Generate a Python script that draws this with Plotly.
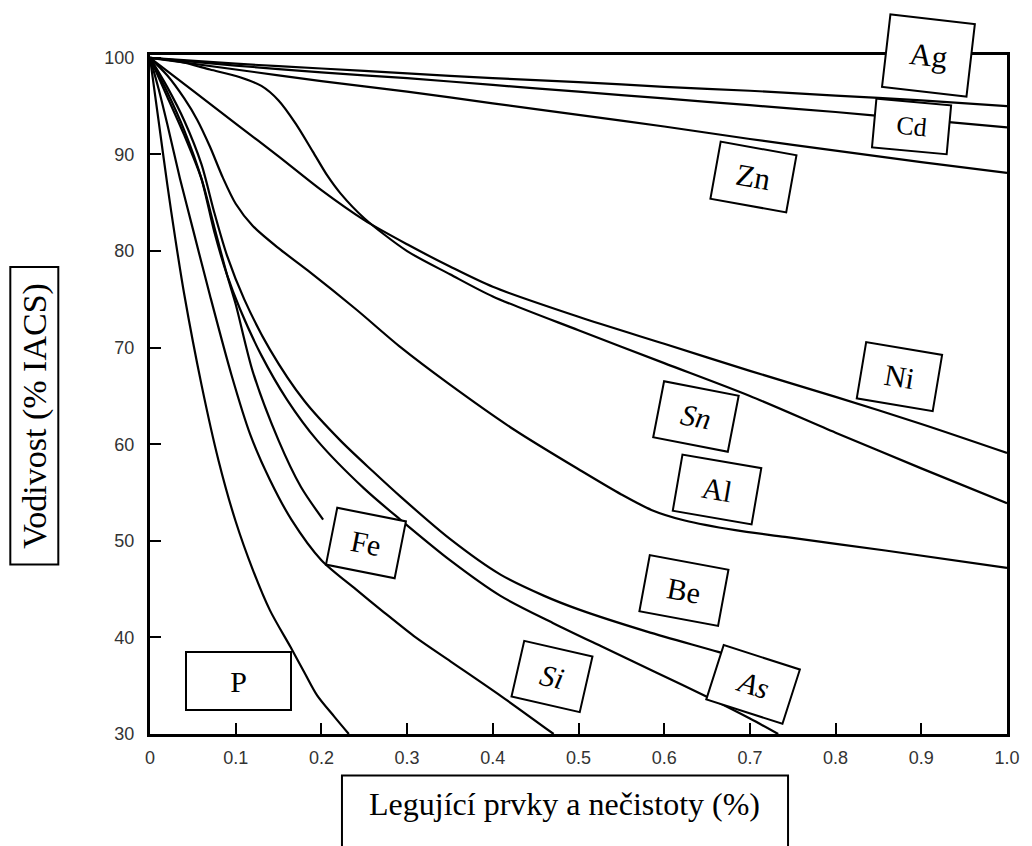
import plotly.graph_objects as go

# ---- data ----
ag_x = [0, 0.1, 0.2, 0.3, 0.4, 0.5, 0.6, 0.7, 0.8, 0.9, 1.0]
ag_y = [100, 99.4, 98.9, 98.4, 97.9, 97.5, 97.0, 96.6, 96.1, 95.6, 95.0]

cd_x = [0, 0.1, 0.2, 0.3, 0.4, 0.5, 0.6, 0.7, 0.8, 0.9, 1.0]
cd_y = [100, 99.2, 98.5, 97.9, 97.2, 96.5, 95.8, 95.1, 94.4, 93.6, 92.8]

zn_x = [0, 0.1, 0.2, 0.3, 0.4, 0.5, 0.6, 0.7, 0.8, 0.9, 1.0]
zn_y = [100, 98.8, 97.6, 96.5, 95.3, 94.1, 92.9, 91.6, 90.4, 89.2, 88.1]

ni_x = [0, 0.05, 0.1, 0.15, 0.2, 0.25, 0.3, 0.35, 0.4, 0.5, 0.6, 0.7, 0.8, 0.9, 1.0]
ni_y = [100, 96.6, 93.2, 89.8, 86.3, 83.2, 80.7, 78.4, 76.3, 73.2, 70.4, 67.6, 64.9, 62.1, 59.1]

sn_x = [0, 0.035, 0.07, 0.105, 0.13, 0.15, 0.17, 0.19, 0.207, 0.222, 0.25, 0.3,
        0.35, 0.4, 0.5, 0.6, 0.7, 0.8, 0.9, 1.0]
sn_y = [100, 99.6, 98.8, 98.0, 97.1, 95.6, 93.2, 90.3, 87.8, 86.0, 83.4, 80.0,
        77.6, 75.3, 71.8, 68.4, 65.0, 61.2, 57.5, 53.9]

al_x = [0, 0.02, 0.04, 0.055, 0.07, 0.085, 0.1, 0.12, 0.15, 0.184, 0.24,
        0.293, 0.348, 0.425, 0.504, 0.55, 0.585, 0.624, 0.683, 0.741, 0.858, 1.0]
al_y = [100, 98.2, 95.8, 93.6, 90.8, 87.6, 84.9, 82.6, 80.3, 78.0, 74.0,
        70.0, 66.3, 61.5, 57.2, 54.8, 53.2, 52.1, 51.1, 50.4, 49.0, 47.2]

be_x = [0, 0.02, 0.04, 0.06, 0.075, 0.09, 0.11, 0.14, 0.18, 0.222, 0.26, 0.292,
        0.35, 0.409, 0.46, 0.5, 0.58, 0.663, 0.72]
be_y = [100, 97, 93.5, 89, 84, 79.5, 75, 69.8, 64.5, 60.4, 57.2, 54.6,
        50.2, 46.5, 44.3, 42.9, 40.6, 38.5, 37.0]

as_x = [0, 0.02, 0.04, 0.06, 0.075, 0.09, 0.105, 0.13, 0.16, 0.195, 0.25,
        0.292, 0.35, 0.409, 0.47, 0.526, 0.59, 0.651, 0.7, 0.733]
as_y = [100, 96.5, 92.5, 87.5, 82.0, 77.5, 74.0, 69.2, 64.6, 60.4, 55.4,
        52.2, 48.0, 44.3, 41.5, 39.1, 36.4, 33.8, 31.6, 30]

fe_x = [0, 0.02, 0.04, 0.06, 0.075, 0.09, 0.1, 0.12, 0.15, 0.176, 0.202]
fe_y = [100, 96, 92, 87.5, 82.5, 77.5, 74.5, 67.5, 60.4, 55.6, 52.2]

si_x = [0, 0.01, 0.02, 0.035, 0.05, 0.07, 0.095, 0.117, 0.14, 0.165, 0.2, 0.24,
        0.273, 0.31, 0.351, 0.41, 0.471]
si_y = [100, 96.8, 93.2, 87.5, 82.3, 75.4, 67.2, 61.0, 56.3, 52.2, 48.0, 45.0,
        42.6, 40.0, 37.5, 33.9, 30]

p_x = [0, 0.01, 0.02, 0.03, 0.04, 0.06, 0.08, 0.1, 0.12, 0.14, 0.164, 0.18, 0.195, 0.215, 0.232]
p_y = [100, 93.5, 87, 81, 75.5, 66.2, 58.3, 52.0, 47.0, 42.8, 39.0, 36.4, 34.0, 31.8, 30]

x_ticks = [0, 0.1, 0.2, 0.3, 0.4, 0.5, 0.6, 0.7, 0.8, 0.9, 1.0]
x_tick_text = ["0", "0.1", "0.2", "0.3", "0.4", "0.5", "0.6", "0.7", "0.8", "0.9", "1.0"]
y_ticks = [30, 40, 50, 60, 70, 80, 90, 100]

# label boxes: name, x, y, width, height, angle, font size, italic
labels = [
    ("Ag", 0.908, 100.3, 87, 75, 6.6, 31, False),
    ("Cd", 0.889, 92.85, 77, 51, 5.2, 26, False),
    ("Zn", 0.704, 87.7, 79, 60, 10.2, 31, False),
    ("Ni", 0.874, 67.05, 79, 59, 9.5, 30, False),
    ("Sn", 0.637, 62.9, 78, 59, 11.0, 30, True),
    ("Al", 0.662, 55.3, 82, 59, 9.8, 30, False),
    ("Be", 0.623, 44.9, 82, 59, 10.5, 30, False),
    ("As", 0.704, 35.1, 82, 59, 17.8, 30, True),
    ("Si", 0.469, 35.96, 72, 59, 12.9, 30, True),
    ("Fe", 0.252, 49.8, 72, 60, 11.2, 30, False),
    ("P", 0.103, 35.5, 107, 60, 0.0, 30, False),
]

series = [
    (ag_x, ag_y), (cd_x, cd_y), (zn_x, zn_y), (ni_x, ni_y), (sn_x, sn_y),
    (al_x, al_y), (be_x, be_y), (as_x, as_y), (fe_x, fe_y), (si_x, si_y), (p_x, p_y),
]

fig = go.Figure()
for sx, sy in series:
    fig.add_trace(go.Scatter(
        x=sx, y=sy, mode="lines",
        line=dict(color="black", width=2.2, shape="spline", smoothing=0.8),
        showlegend=False, hoverinfo="skip",
    ))

annotations = []
for name, ax, ay, w, h, ang, fs, ital in labels:
    annotations.append(dict(
        x=ax, y=ay, xref="x", yref="y", text=name, showarrow=False,
        font=dict(family="Liberation Serif", size=fs, color="black",
                  style="italic" if ital else "normal"),
        bordercolor="black", borderwidth=2, borderpad=0, bgcolor="white",
        width=w - 4, height=h - 4, textangle=ang,
        xanchor="center", yanchor="middle",
    ))

# axis titles (as boxed texts)
annotations.append(dict(
    x=0.484, y=-0.1024, xref="paper", yref="paper",
    text="Legující prvky a nečistoty (%)", showarrow=False,
    font=dict(family="Liberation Serif", size=32, color="black"),
    xanchor="center", yanchor="middle",
))
annotations.append(dict(
    x=-0.135, y=0.469, xref="paper", yref="paper",
    text="Vodivost (% IACS)", showarrow=False, textangle=-90,
    font=dict(family="Liberation Serif", size=34, color="black"),
    xanchor="center", yanchor="middle",
))

shapes = [
    dict(type="rect", xref="paper", yref="paper", x0=0.224, x1=0.7445, y0=-0.201, y1=-0.0612,
         line=dict(color="black", width=2), fillcolor="rgba(0,0,0,0)"),
    dict(type="rect", xref="paper", yref="paper", x0=-0.163, x1=-0.107, y0=0.2498, y1=0.6876,
         line=dict(color="black", width=2), fillcolor="rgba(0,0,0,0)"),
]

fig.update_layout(
    width=1032, height=846,
    margin=dict(l=150, r=25, t=55, b=112, pad=0),
    paper_bgcolor="white", plot_bgcolor="white",
    annotations=annotations, shapes=shapes,
    font=dict(family="Liberation Sans", size=18, color="#333333"),
)
fig.update_xaxes(
    range=[0, 1.0], tickvals=x_ticks, ticktext=x_tick_text,
    showgrid=False, zeroline=False, showline=True, linecolor="black", linewidth=3,
    mirror=True, ticks="inside", ticklen=11, tickwidth=2, tickcolor="black",
    ticklabelstandoff=5, tickfont=dict(family="Liberation Sans", size=18, color="#333333"),
)
fig.update_yaxes(
    range=[30, 100.3], tickvals=y_ticks,
    showgrid=False, zeroline=False, showline=True, linecolor="black", linewidth=3,
    mirror=True, ticks="inside", ticklen=11, tickwidth=2, tickcolor="black",
    ticklabelstandoff=9, tickfont=dict(family="Liberation Sans", size=18, color="#333333"),
)

fig.write_html("out.html")
